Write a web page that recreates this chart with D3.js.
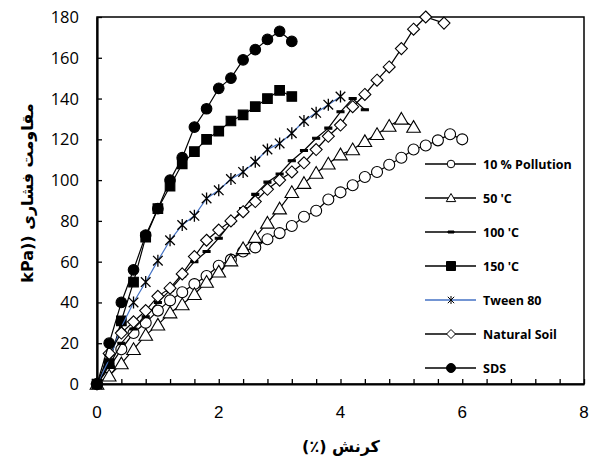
<!DOCTYPE html>
<html>
<head>
<meta charset="utf-8">
<script src="https://d3js.org/d3.v7.min.js"></script>
<style>
  body { margin: 0; background: #fff; }
  svg { display: block; }
</style>
</head>
<body>
<div id="chart"></div>
<script>
// series names, in legend order
var seriesNames = ["10 % Pollution", "50 'C", "100 'C", "150 'C", "Tween 80", "Natural Soil", "SDS"];

// strain (%) and stress (kPa)
var pollutionX = [0, 0.2, 0.4, 0.6, 0.8, 1.0, 1.2, 1.4, 1.6, 1.8, 2.0, 2.2, 2.4, 2.6, 2.8, 3.0, 3.2, 3.4, 3.6, 3.8, 4.0, 4.2, 4.4, 4.6, 4.8, 5.0, 5.2, 5.4, 5.6, 5.8, 6.0];
var pollutionY = [0, 8, 17, 25, 30, 36, 41, 45, 49, 53, 58, 61, 65, 67, 71, 74, 77.5, 82, 85, 90.5, 94, 97.5, 101.5, 104, 107.5, 111, 115, 117, 119.5, 122.5, 120];

var c50X = [0, 0.2, 0.4, 0.6, 0.8, 1.0, 1.2, 1.4, 1.6, 1.8, 2.0, 2.2, 2.4, 2.6, 2.8, 3.0, 3.2, 3.4, 3.6, 3.8, 4.0, 4.2, 4.4, 4.6, 4.8, 5.0, 5.2];
var c50Y = [0, 4, 10, 17, 24, 29, 35, 39, 44, 50, 55, 60.5, 66.5, 72, 79, 86, 94, 98.5, 103.5, 108, 112.5, 115, 119, 122.5, 126.5, 130, 126];

var c100X = [0, 0.2, 0.4, 0.6, 0.8, 1.0, 1.2, 1.4, 1.6, 1.8, 2.0, 2.2, 2.4, 2.6, 2.8, 3.0, 3.2, 3.4, 3.6, 3.8, 4.0, 4.2, 4.4];
var c100Y = [0, 9, 20, 27, 33, 40, 46, 53, 60, 65, 71.5, 79, 86, 93, 99, 103, 109.5, 114.5, 120.5, 125.5, 133.5, 140, 134.5];

var c150X = [0, 0.2, 0.4, 0.6, 0.8, 1.0, 1.2, 1.4, 1.6, 1.8, 2.0, 2.2, 2.4, 2.6, 2.8, 3.0, 3.2];
var c150Y = [0, 10, 31, 50, 72, 86, 97, 108, 114, 120, 124, 129, 132, 136, 140, 144, 141];

var tweenX = [0, 0.2, 0.4, 0.6, 0.8, 1.0, 1.2, 1.4, 1.6, 1.8, 2.0, 2.2, 2.4, 2.6, 2.8, 3.0, 3.2, 3.4, 3.6, 3.8, 4.0];
var tweenY = [0, 12, 28, 40, 50, 60.5, 70.5, 78, 82.5, 91, 95, 100.5, 104, 109, 115, 118, 123, 129, 133, 137, 141];

var naturalX = [0, 0.2, 0.4, 0.6, 0.8, 1.0, 1.2, 1.4, 1.6, 1.8, 2.0, 2.2, 2.4, 2.6, 2.8, 3.0, 3.2, 3.4, 3.6, 3.8, 4.0, 4.2, 4.4, 4.6, 4.8, 5.0, 5.2, 5.4, 5.7];
var naturalY = [0, 15, 25, 30.5, 36, 43, 47, 54, 62.5, 70.5, 75.5, 80, 84.5, 89.5, 95.5, 100, 104, 108.5, 115, 121.5, 127, 136, 142, 149, 155.5, 164.5, 174, 180, 177];

var sdsX = [0, 0.2, 0.4, 0.6, 0.8, 1.0, 1.2, 1.4, 1.6, 1.8, 2.0, 2.2, 2.4, 2.6, 2.8, 3.0, 3.2];
var sdsY = [0, 20, 40, 56, 73, 86, 100, 111, 126, 135, 145, 150, 159, 164, 169, 173, 168];

var xTicks = [0, 2, 4, 6, 8];
var yTicks = [0, 20, 40, 60, 80, 100, 120, 140, 160, 180];

var width = 592, height = 461;
var svg = d3.select("#chart").append("svg")
  .attr("width", width)
  .attr("height", height);

var x = d3.scaleLinear().domain([0, 8]).range([97, 584]);
var y = d3.scaleLinear().domain([0, 180]).range([384, 17]);

// frame (top + right)
svg.append("rect")
  .attr("x", x(0)).attr("y", y(180))
  .attr("width", x(8) - x(0)).attr("height", y(0) - y(180))
  .attr("fill", "none").attr("stroke", "#000").attr("stroke-width", 1.5);

// x axis: minor ticks every 0.4 pointing in
var xAxis = d3.axisBottom(x)
  .tickValues(d3.range(0, 8.01, 0.4))
  .tickSizeInner(-5).tickSizeOuter(0)
  .tickFormat("");
var gx = svg.append("g").attr("transform", "translate(0," + y(0) + ")").call(xAxis);
gx.select(".domain").attr("stroke-width", 2.2);
gx.selectAll(".tick line").attr("stroke-width", 1.3);

var yAxis = d3.axisLeft(y).tickValues(yTicks).tickSizeInner(-5).tickSizeOuter(0).tickFormat("");
var gy = svg.append("g").attr("transform", "translate(" + x(0) + ",0)").call(yAxis);
gy.select(".domain").attr("stroke-width", 2.2);
gy.selectAll(".tick line").attr("stroke-width", 1.3);

svg.selectAll(".xlab").data(xTicks).enter().append("text")
  .attr("class", "xlab")
  .attr("x", function(d) { return x(d); })
  .attr("y", 418)
  .attr("text-anchor", "middle")
  .style("font-family", "'Liberation Sans', Arial, sans-serif")
  .style("font-size", "17px")
  .text(function(d) { return d; });

svg.selectAll(".ylab").data(yTicks).enter().append("text")
  .attr("class", "ylab")
  .attr("x", 79)
  .attr("y", function(d) { return y(d) + 6; })
  .attr("text-anchor", "end")
  .style("font-family", "'Open Sans', sans-serif")
  .style("font-size", "16.5px")
  .text(function(d) { return d; });

// axis titles
svg.append("text")
  .attr("transform", "translate(33,193) rotate(-90)")
  .attr("text-anchor", "middle")
  .style("font-family", "'DejaVu Sans', sans-serif")
  .style("font-weight", "bold")
  .style("font-size", "16px")
  .text("kPa)) مقاومت فشاری");

svg.append("text")
  .attr("x", 341).attr("y", 452)
  .attr("text-anchor", "middle")
  .attr("direction", "rtl")
  .style("font-family", "'DejaVu Sans', sans-serif")
  .style("font-weight", "bold")
  .style("font-size", "16px")
  .text("کرنش (٪)");

// marker paths
function markerPath(type, s) {
  switch (type) {
    case "circle":
      return "M" + s + ",0A" + s + "," + s + " 0 1,1 " + (-s) + ",0A" + s + "," + s + " 0 1,1 " + s + ",0Z";
    case "triangle":
      return "M0," + (-s) + "L" + (s * 1.05) + "," + (s * 0.8) + "L" + (-s * 1.05) + "," + (s * 0.8) + "Z";
    case "square":
      return "M" + (-s) + "," + (-s) + "H" + s + "V" + s + "H" + (-s) + "Z";
    case "diamond":
      return "M0," + (-s) + "L" + s + ",0L0," + s + "L" + (-s) + ",0Z";
    case "dash":
      return "M" + (-s) + ",-1H" + s + "V1H" + (-s) + "Z";
    case "asterisk":
      return "M0," + (-s) + "V" + s + "M" + (-s * 0.8) + "," + (-s * 0.8) + "L" + (s * 0.8) + "," + (s * 0.8) +
        "M" + (-s * 0.8) + "," + (s * 0.8) + "L" + (s * 0.8) + "," + (-s * 0.8);
  }
}

var series = [
  { name: seriesNames[0], xs: pollutionX, ys: pollutionY, marker: "circle", fill: "#fff", color: "#000", size: 5.5, lsize: 3.8 },
  { name: seriesNames[1], xs: c50X, ys: c50Y, marker: "triangle", fill: "#fff", color: "#000", size: 6.5, lsize: 4.5 },
  { name: seriesNames[2], xs: c100X, ys: c100Y, marker: "dash", fill: "#000", color: "#000", size: 3.5, lsize: 3 },
  { name: seriesNames[3], xs: c150X, ys: c150Y, marker: "square", fill: "#000", color: "#000", size: 4.8, lsize: 4.5 },
  { name: seriesNames[4], xs: tweenX, ys: tweenY, marker: "asterisk", fill: "none", color: "#4472C4", size: 6, lsize: 4 },
  { name: seriesNames[5], xs: naturalX, ys: naturalY, marker: "diamond", fill: "#fff", color: "#000", size: 6, lsize: 4.5 },
  { name: seriesNames[6], xs: sdsX, ys: sdsY, marker: "circle", fill: "#000", color: "#000", size: 5.3, lsize: 4.5 }
];

var line = d3.line()
  .x(function(d) { return x(d[0]); })
  .y(function(d) { return y(d[1]); });

series.forEach(function(s) {
  var pts = s.xs.map(function(v, i) { return [v, s.ys[i]]; });
  svg.append("path")
    .datum(pts)
    .attr("d", line)
    .attr("fill", "none")
    .attr("stroke", s.color)
    .attr("stroke-width", 1.2);

  svg.append("g").selectAll("path")
    .data(pts)
    .enter()
    .append("path")
    .attr("transform", function(d) { return "translate(" + x(d[0]) + "," + y(d[1]) + ")"; })
    .attr("d", markerPath(s.marker, s.size))
    .attr("fill", s.fill)
    .attr("stroke", "#000")
    .attr("stroke-width", s.marker == "asterisk" ? 1.3 : 1.1);
});

// legend
var legend = svg.append("g").attr("class", "legend");
series.forEach(function(s, i) {
  var ly = 164 + i * 34;
  legend.append("line")
    .attr("x1", 425).attr("x2", 476)
    .attr("y1", ly).attr("y2", ly)
    .attr("stroke", s.color).attr("stroke-width", 1.3);
  legend.append("path")
    .attr("transform", "translate(451," + ly + ")")
    .attr("d", markerPath(s.marker, s.lsize))
    .attr("fill", s.fill)
    .attr("stroke", "#000")
    .attr("stroke-width", 1);
  legend.append("text")
    .attr("x", 483).attr("y", ly + 4.5)
    .style("font-family", "'Open Sans', sans-serif")
    .style("font-weight", "bold")
    .style("font-size", "12.5px")
    .text(s.name);
});
</script>
</body>
</html>
